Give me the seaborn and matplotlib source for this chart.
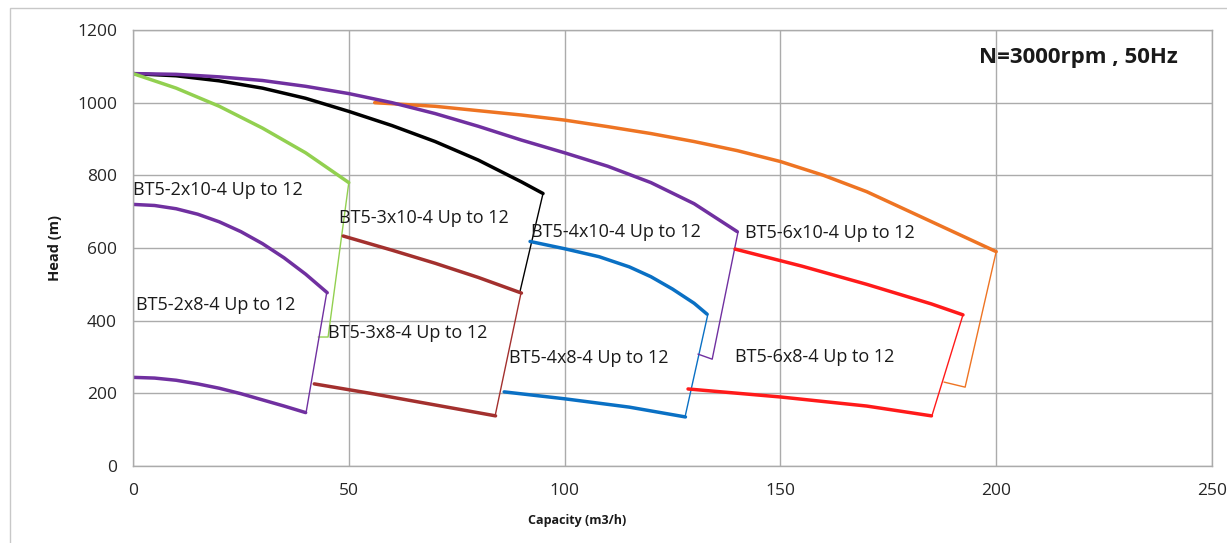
import matplotlib
matplotlib.use("Agg")
import matplotlib.pyplot as plt
from matplotlib.patches import Rectangle
import pandas as pd
import seaborn as sns

# ---- pump curves: capacity (m3/h) vs head (m) ----
q_2x10 = [0, 5, 10, 15, 20, 25, 30, 35, 40, 45]
h_2x10 = [720, 717, 708, 693, 672, 645, 612, 573, 528, 477]
q_2x8 = [0, 5, 10, 15, 20, 25, 30, 35, 40]
h_2x8 = [244, 242, 236, 226, 214, 199, 182, 165, 147]

q_3x10 = [48.7, 60, 70, 80, 90]
h_3x10 = [633, 594, 558, 519, 476]
q_3x8 = [42, 55, 70, 84]
h_3x8 = [226, 200, 168, 138]

q_4x10 = [92, 100, 108, 115, 120, 125, 130, 133]
h_4x10 = [618, 598, 576, 548, 521, 487, 448, 418]
q_4x8 = [86, 100, 115, 128]
h_4x8 = [204, 185, 162, 135]

q_6x10 = [139.5, 155, 170, 185, 192.3]
h_6x10 = [597, 550, 500, 446, 416]
q_6x8 = [128.6, 150, 170, 185]
h_6x8 = [212, 190, 165, 138]

# full-stage envelopes (12 stages)
q_env_green = [0, 10, 20, 30, 40, 50]
h_env_green = [1080, 1040, 990, 930, 862, 780]
q_env_black = [0, 10, 20, 30, 40, 50, 60, 70, 80, 90, 95]
h_env_black = [1080, 1074, 1060, 1040, 1012, 976, 937, 893, 842, 782, 750]
q_env_purple = [0, 10, 20, 30, 40, 50, 60, 70, 80, 90, 100, 110, 120, 130, 140]
h_env_purple = [1080, 1078, 1071, 1061, 1045, 1025, 1000, 970, 935, 897, 862, 825, 780, 722, 645]
q_env_orange = [56, 70, 80, 90, 100, 110, 120, 130, 140, 150, 160, 170, 180, 190, 200]
h_env_orange = [1000, 990, 978, 966, 952, 934, 915, 893, 868, 838, 800, 755, 700, 645, 590]

# right-hand limit lines
q_lim_green = [50, 45.2, 42.9]
h_lim_green = [780, 355, 355]
q_lim_2x = [44.9, 40.1]
h_lim_2x = [478, 147]
q_lim_black = [95, 89.7]
h_lim_black = [750, 482]
q_lim_3x = [89.9, 83.9]
h_lim_3x = [476, 138]
q_lim_4x = [133.2, 127.9]
h_lim_4x = [418, 135]
q_lim_purple = [140.2, 134.2, 130.9]
h_lim_purple = [645, 294, 308]
q_lim_6x = [192.3, 185.1]
h_lim_6x = [416, 138]
q_lim_orange = [200, 192.8, 187.9]
h_lim_orange = [590, 217, 231]

label_text = ["BT5-2x10-4 Up to 12", "BT5-2x8-4 Up to 12",
              "BT5-3x10-4 Up to 12", "BT5-3x8-4 Up to 12",
              "BT5-4x10-4 Up to 12", "BT5-4x8-4 Up to 12",
              "BT5-6x10-4 Up to 12", "BT5-6x8-4 Up to 12"]
label_q = [0, 0.7, 47.7, 45.2, 92.2, 87.1, 141.8, 139.5]
label_h = [760, 443, 683, 366, 644, 297, 641, 300]

x_ticks = [0, 50, 100, 150, 200, 250]
y_ticks = [0, 200, 400, 600, 800, 1000, 1200]

PURPLE = "#7030A0"
ORANGE = "#EE7423"
GREEN = "#92D050"
BROWN = "#A3302E"
BLUE = "#0A70C4"
RED = "#FF1A1A"
BLACK = "#000000"
GRID = "#ABABAB"

sns.set_theme(style="white")
plt.rcParams["font.family"] = ["Open Sans", "DejaVu Sans"]

fig = plt.figure(figsize=(12.27, 5.43), dpi=100)
ax = fig.add_axes([133 / 1227, 1 - 466 / 543, (1212 - 133) / 1227, (466 - 30) / 543])


def draw(q, h, color, lw):
    df = pd.DataFrame({"q": q, "h": h})
    sns.lineplot(data=df, x="q", y="h", ax=ax, color=color, linewidth=lw,
                 sort=False, estimator=None, solid_joinstyle="round")


THICK = 2.5
THIN = 1.0

# limit lines first so curves sit on top
for q, h, c in [(q_lim_green, h_lim_green, GREEN), (q_lim_2x, h_lim_2x, PURPLE),
                (q_lim_black, h_lim_black, BLACK), (q_lim_3x, h_lim_3x, BROWN),
                (q_lim_4x, h_lim_4x, BLUE), (q_lim_purple, h_lim_purple, PURPLE),
                (q_lim_6x, h_lim_6x, RED), (q_lim_orange, h_lim_orange, ORANGE)]:
    draw(q, h, c, THIN)

for q, h, c in [(q_env_orange, h_env_orange, ORANGE), (q_env_black, h_env_black, BLACK),
                (q_env_purple, h_env_purple, PURPLE), (q_env_green, h_env_green, GREEN),
                (q_2x10, h_2x10, PURPLE), (q_2x8, h_2x8, PURPLE),
                (q_3x10, h_3x10, BROWN), (q_3x8, h_3x8, BROWN),
                (q_4x10, h_4x10, BLUE), (q_4x8, h_4x8, BLUE),
                (q_6x10, h_6x10, RED), (q_6x8, h_6x8, RED)]:
    draw(q, h, c, THICK)

for t, x, y in zip(label_text, label_q, label_h):
    ax.text(x, y, t, fontsize=13, ha="left", va="center", color="#1a1a1a")

ax.text(196, 1123, "N=3000rpm , 50Hz", fontsize=16, fontweight="bold",
        ha="left", va="center", color="#1a1a1a")

ax.set_xlim(0, 250)
ax.set_ylim(0, 1200)
ax.set_xticks(x_ticks)
ax.set_yticks(y_ticks)
ax.grid(True, color=GRID, linewidth=1.0)
ax.set_axisbelow(True)
for s in ax.spines.values():
    s.set_color(GRID)
    s.set_linewidth(1.0)
ax.tick_params(axis="both", which="major", direction="out", length=4.5, width=1.0,
               color=GRID, labelsize=12.5, labelcolor="#262626")
ax.tick_params(axis="y", pad=7)
ax.tick_params(axis="x", pad=8)

ax.set_xlabel("Capacity (m3/h)", fontsize=9, fontweight="bold", color="#1a1a1a")
ax.set_ylabel("Head (m)", fontsize=10.5, fontweight="bold", color="#1a1a1a")
ax.xaxis.set_label_coords((577 - 133) / 1079, (466 - 514) / 436)
ax.yaxis.set_label_coords((62 - 133) / 1079, 0.5)

# outer chart-area frame
fig.add_artist(Rectangle((10 / 1227, -0.05), 1.2, 1.05 - 8 / 543,
                         transform=fig.transFigure, fill=False,
                         edgecolor="#C8C8C8", linewidth=1.0))

fig.savefig("out.png", dpi=100)
